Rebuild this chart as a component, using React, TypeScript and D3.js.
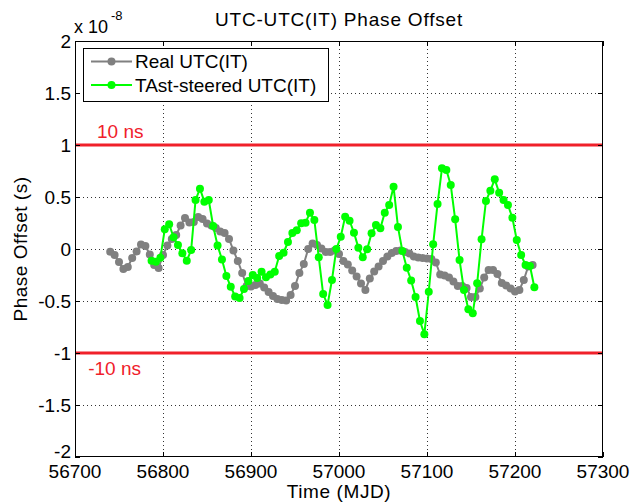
import React from 'react';
import * as d3 from 'd3';

// ---- data (values in ns) ----
const grayMjd = [
  56740, 56745, 56750, 56755, 56760, 56765, 56770, 56775, 56780, 56785,
  56790, 56795, 56800, 56805, 56810, 56815, 56820, 56825, 56830, 56835,
  56840, 56845, 56850, 56855, 56860, 56865, 56870, 56875, 56880, 56885,
  56890, 56895, 56900, 56905, 56910, 56915, 56920, 56925, 56930, 56935,
  56940, 56945, 56950, 56955, 56960, 56965, 56970, 56975, 56980, 56985,
  56990, 56995, 57000, 57005, 57010, 57015, 57020, 57025, 57030, 57035,
  57040, 57045, 57050, 57055, 57060, 57065, 57070, 57075, 57080, 57085,
  57090, 57095, 57100, 57105, 57110, 57115, 57120, 57125, 57130, 57135,
  57140, 57145, 57150, 57155, 57160, 57165, 57170, 57175, 57180, 57185,
  57190, 57195, 57200, 57205, 57210, 57215, 57220,
];
const grayNs = [
  -0.26, -0.58, -1.25, -1.92, -1.73, -0.87, -0.24, 0.43, 0.29, -0.53,
  -1.54, -1.83, -0.58, 0.34, 0.96, 1.35, 2.26, 2.98, 2.55, 2.6,
  3.08, 2.88, 2.45, 2.26, 2.02, 1.68, 1.54, 0.96, -0.14, -1.15,
  -2.31, -3.56, -3.61, -3.46, -3.32, -3.7, -4.13, -4.52, -4.81, -4.9,
  -4.95, -4.42, -3.56, -2.31, -1.44, 0.0, 0.53, 0.38, 0.05, -0.29,
  -0.29, -0.14, -0.48, -1.15, -1.49, -2.07, -2.64, -3.32, -3.94, -2.84,
  -2.16, -1.68, -1.15, -0.72, -0.38, -0.19, -0.14, -0.29, -0.43, -0.72,
  -0.82, -0.87, -0.91, -0.96, -1.3, -2.45, -2.55, -2.74, -3.13, -3.56,
  -3.56, -3.75, -4.62, -4.62, -3.8, -2.74, -2.02, -2.02, -2.4, -3.27,
  -3.51, -3.8, -4.09, -3.94, -2.98, -1.68, -1.54,
];
const greenMjd = [
  56787, 56792, 56797, 56802, 56807, 56812, 56817, 56822, 56827, 56832,
  56837, 56842, 56847, 56852, 56857, 56862, 56867, 56872, 56877, 56882,
  56887, 56892, 56897, 56902, 56907, 56912, 56917, 56922, 56927, 56932,
  56937, 56942, 56947, 56952, 56957, 56962, 56967, 56972, 56977, 56982,
  56987, 56992, 56997, 57002, 57007, 57012, 57017, 57022, 57027, 57032,
  57037, 57042, 57047, 57052, 57057, 57062, 57067, 57072, 57077, 57082,
  57087, 57092, 57097, 57102, 57107, 57112, 57117, 57122, 57127, 57132,
  57137, 57142, 57147, 57152, 57157, 57162, 57167, 57172, 57177, 57182,
  57187, 57192, 57197, 57202, 57207, 57212, 57217, 57222,
];
const greenNs = [
  -1.13, -1.22, -0.84, 1.89, 2.38, 1.13, 0.38, -0.41, -1.13, -0.1,
  4.71, 5.8, 4.55, 4.71, 2.21, 0.34, -1.01, -2.6, -3.63, -4.57,
  -4.71, -3.85, -3.08, -2.5, -2.79, -2.18, -2.72, -2.45, -2.18, -0.67,
  -0.36, 0.67, 1.54, 1.8, 2.47, 2.53, 3.49, 2.79, -0.8, -4.33,
  -5.38, -2.98, 0.0, 1.18, 3.11, 2.72, 1.57, 0.13, -0.8, -0.03,
  1.51, 2.31, 1.99, 3.49, 4.23, 5.99, 2.12, -0.19, -1.81, -3.03,
  -4.62, -6.92, -8.19, -4.11, 0.45, 4.33, 7.76, 7.6, 6.15, 2.86,
  -1.06, -3.94, -5.8, -6.18, -3.3, 0.93, 4.62, 5.61, 6.7, 5.41,
  4.71, 4.23, 3.01, 0.87, -0.58, -1.54, -1.63, -3.68,
];
const xTicks = [56700, 56800, 56900, 57000, 57100, 57200, 57300];
const yTicksNs = [-20, -15, -10, -5, 0, 5, 10, 15, 20];
const yTickLabels = ['-2', '-1.5', '-1', '-0.5', '0', '0.5', '1', '1.5', '2'];
const limitNs = [10, -10];
const limitLabels = ['10 ns', '-10 ns'];
const seriesNames = ['Real UTC(IT)', 'TAst-steered UTC(IT)'];

const W = 635;
const H = 502;
const L = 75, R = 603, T = 41, B = 457;
const FONT = '"Liberation Sans", Arial, sans-serif';
const GRAY = '#808080';
const GREEN = '#00ff00';
const RED = '#f0202a';

export default function App() {
  const x = d3.scaleLinear().domain([56700, 57300]).range([L, R]);
  const y = d3.scaleLinear().domain([-20, 20]).range([B, T]);
  const line = d3.line<[number, number]>().x(d => x(d[0])).y(d => y(d[1]));
  const gray: [number, number][] = grayMjd.map((m, i) => [m, grayNs[i]]);
  const green: [number, number][] = greenMjd.map((m, i) => [m, greenNs[i]]);
  const snap = (v: number) => Math.round(v) + 0.5;

  return (
    <svg width={W} height={H} style={{ position: 'absolute', left: 0, top: 0, background: '#fff' }}
      fontFamily={FONT}>
      <rect x={0} y={0} width={W} height={H} fill="#fff" />
      <rect x={L} y={T} width={R - L} height={B - T} fill="#fff" />
      {/* grid */}
      {xTicks.slice(1, -1).map(t => (
        <line key={'gx' + t} x1={snap(x(t))} x2={snap(x(t))} y1={T} y2={B}
          stroke="#333" strokeWidth={1} strokeDasharray="1,3" />
      ))}
      {yTicksNs.slice(1, -1).map(t => (
        <line key={'gy' + t} x1={L} x2={R} y1={snap(y(t))} y2={snap(y(t))}
          stroke="#333" strokeWidth={1} strokeDasharray="1,3" />
      ))}
      {/* limit lines */}
      {limitNs.map(v => (
        <line key={'lim' + v} x1={L} x2={R} y1={y(v)} y2={y(v)} stroke={RED} strokeWidth={3} />
      ))}
      <text x={x(56725)} y={y(10) - 7} fill={RED} fontSize={19}>{limitLabels[0]}</text>
      <text x={x(56715)} y={y(-10) + 22} fill={RED} fontSize={19}>{limitLabels[1]}</text>
      {/* series */}
      <path d={line(gray) || ''} fill="none" stroke={GRAY} strokeWidth={2} />
      {gray.map((d, i) => (
        <circle key={'gc' + i} cx={x(d[0])} cy={y(d[1])} r={4} fill={GRAY} />
      ))}
      <path d={line(green) || ''} fill="none" stroke={GREEN} strokeWidth={2} />
      {green.map((d, i) => (
        <circle key={'grc' + i} cx={x(d[0])} cy={y(d[1])} r={4} fill={GREEN} />
      ))}
      {/* frame */}
      <rect x={L + 0.5} y={T + 0.5} width={R - L - 1} height={B - T - 1} fill="none" stroke="#000" strokeWidth={1} />
      {/* ticks */}
      {xTicks.map(t => (
        <g key={'tx' + t}>
          <line x1={snap(x(t))} x2={snap(x(t))} y1={B} y2={B - 5} stroke="#000" />
          <line x1={snap(x(t))} x2={snap(x(t))} y1={T} y2={T + 5} stroke="#000" />
          <text x={x(t)} y={478} textAnchor="middle" fontSize={19} fill="#000">{t}</text>
        </g>
      ))}
      {yTicksNs.map((t, i) => (
        <g key={'ty' + t}>
          <line x1={L} x2={L + 5} y1={snap(y(t))} y2={snap(y(t))} stroke="#000" />
          <line x1={R - 5} x2={R} y1={snap(y(t))} y2={snap(y(t))} stroke="#000" />
          <text x={71} y={t === -20 ? y(t) - 6 : y(t)} dy="0.35em" textAnchor="end" fontSize={19} fill="#000">{yTickLabels[i]}</text>
        </g>
      ))}
      {/* exponent */}
      <text x={74} y={33} fontSize={18} fill="#000">x 10</text>
      <text x={111} y={20} fontSize={13} fill="#000">-8</text>
      {/* title and labels */}
      <text x={(L + R) / 2} y={26} textAnchor="middle" fontSize={19} letterSpacing={0.8} fill="#000">UTC-UTC(IT) Phase Offset</text>
      <text x={(L + R) / 2} y={498} textAnchor="middle" fontSize={19} letterSpacing={0.6} fill="#000">Time (MJD)</text>
      <text transform={`translate(27,${(T + B) / 2}) rotate(-90)`} textAnchor="middle" fontSize={19} letterSpacing={0.5} fill="#000">Phase Offset (s)</text>
      {/* legend */}
      <rect x={83.5} y={48.5} width={245} height={53} fill="#fff" stroke="#000" strokeWidth={1} />
      <line x1={91} x2={132} y1={61.5} y2={61.5} stroke={GRAY} strokeWidth={2} />
      <circle cx={111.5} cy={61.5} r={4} fill={GRAY} />
      <text x={135} y={68} fontSize={19} fill="#000">{seriesNames[0]}</text>
      <line x1={91} x2={132} y1={85} y2={85} stroke={GREEN} strokeWidth={2} />
      <circle cx={111.5} cy={85} r={4} fill={GREEN} />
      <text x={135} y={91.5} fontSize={19} fill="#000">{seriesNames[1]}</text>
    </svg>
  );
}
